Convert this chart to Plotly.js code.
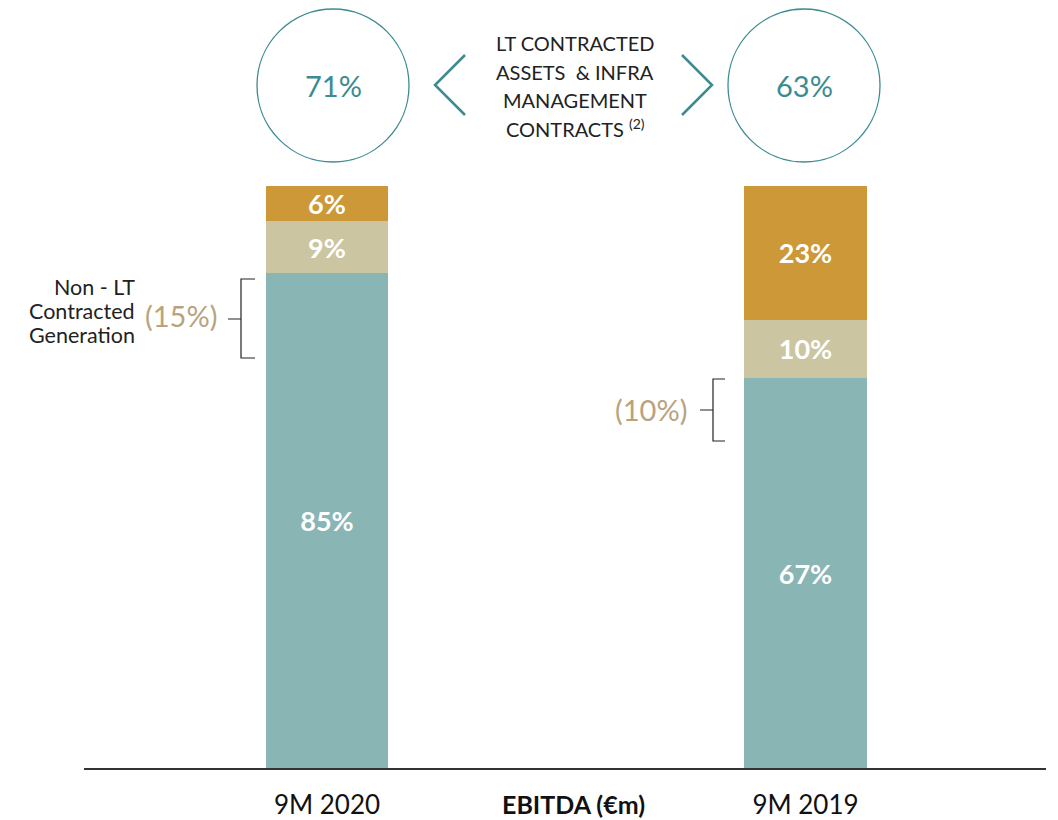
<!DOCTYPE html>
<html>
<head>
<meta charset="utf-8">
<script src="https://cdn.plot.ly/plotly-3.0.1.min.js"></script>
<style>html,body{margin:0;padding:0;background:#fff;}#chart{width:1058px;height:820px;}</style>
</head>
<body>
<div id="chart"></div>
<script>
// ---- data ----
const categories = ['9M 2020', '9M 2019'];
const ltGeneration = [85, 67];      // teal segment
const infraMgmt = [9, 10];          // beige segment
const otherSeg = [6, 23];           // gold segment
const ltContractedShare = [71, 63]; // circles
const nonLtShare = [15, 10];        // bracket labels
const headerLines = ['LT CONTRACTED', 'ASSETS  &amp; INFRA', 'MANAGEMENT', 'CONTRACTS <sup>(2)</sup>'];
const nonLtLines = ['Non - LT', 'Contracted', 'Generation'];
const axisTitle = 'EBITDA (€m)';

// ---- layout helpers ----
const W = 1058, H = 820, L = 84, R = 12, T = 186, B = 52;
const pw = W - L - R, ph = H - T - B;
const px = x => (x - L) / pw;
const py = y => (H - B - y) / ph;

const FONT = 'Lato, "Open Sans", sans-serif';
const TEAL = '#3B8B91';
const colors = ['#8AB5B5', '#CBC5A1', '#CC9838'];

function barTrace(vals, color, name) {
  return {
    type: 'bar', x: categories, y: vals, name: name,
    marker: {color: color, line: {width: 0}},
    width: 0.255,
    text: vals.map(v => '<b>' + v + '%</b>'),
    textposition: 'inside', insidetextanchor: 'middle', textangle: 0,
    constraintext: 'none',
    textfont: {family: FONT, size: 27, color: '#ffffff'},
    hoverinfo: 'skip'
  };
}

const data = [
  barTrace(ltGeneration, colors[0], 'LT contracted generation'),
  barTrace(infraMgmt, colors[1], 'Infra management'),
  barTrace(otherSeg, colors[2], 'Other')
];

const shapes = [];
// circles
const circleCx = [333, 804];
circleCx.forEach(cx => shapes.push({
  type: 'circle', xref: 'paper', yref: 'paper',
  x0: px(cx - 76), x1: px(cx + 76), y0: py(162), y1: py(9),
  line: {color: TEAL, width: 1.3}
}));
// chevrons
function pathOf(pts) {
  return pts.map((p, i) => (p[2] ? 'M' : (i === 0 ? 'M' : 'L')) + ' ' + px(p[0]) + ',' + py(p[1])).join(' ');
}
shapes.push({type: 'path', xref: 'paper', yref: 'paper',
  path: pathOf([[465, 55], [435, 85], [465, 115]]), line: {color: TEAL, width: 2.5}});
shapes.push({type: 'path', xref: 'paper', yref: 'paper',
  path: pathOf([[682, 55], [712, 85], [682, 115]]), line: {color: TEAL, width: 2.5}});
// brackets
shapes.push({type: 'path', xref: 'paper', yref: 'paper',
  path: pathOf([[255, 279], [241, 279], [241, 358], [255, 358], [228, 319, true], [241, 319]]),
  line: {color: '#222', width: 1.2}});
shapes.push({type: 'path', xref: 'paper', yref: 'paper',
  path: pathOf([[725, 379], [713, 379], [713, 441], [725, 441], [700, 410, true], [713, 410]]),
  line: {color: '#222', width: 1.2}});

const annotations = [];
ltContractedShare.forEach((v, i) => annotations.push({
  xref: 'paper', yref: 'paper', x: px(circleCx[i]), y: py(86),
  text: v + '%', showarrow: false, xanchor: 'center', yanchor: 'middle',
  font: {family: FONT, size: 29, color: TEAL}
}));
headerLines.forEach((t, i) => annotations.push({
  xref: 'paper', yref: 'paper', x: px(575), y: py(43 + i * 28.5),
  text: t, showarrow: false, xanchor: 'center', yanchor: 'middle',
  font: {family: FONT, size: 20, color: '#222'}
}));
nonLtLines.forEach((t, i) => annotations.push({
  xref: 'paper', yref: 'paper', x: px(137), y: py(287 + i * 24),
  text: t, showarrow: false, xanchor: 'right', yanchor: 'middle',
  font: {family: FONT, size: 21.5, color: '#222'}
}));
const nonLtPos = [[181, 315], [651, 409]];
nonLtShare.forEach((v, i) => annotations.push({
  xref: 'paper', yref: 'paper', x: px(nonLtPos[i][0]), y: py(nonLtPos[i][1]),
  text: '(' + v + '%)', showarrow: false, xanchor: 'center', yanchor: 'middle',
  font: {family: FONT, size: 29, color: '#B9A37E'}
}));
annotations.push({
  xref: 'paper', yref: 'paper', x: px(573), y: py(804),
  text: '<b>' + axisTitle + '</b>', showarrow: false, xanchor: 'center', yanchor: 'middle',
  font: {family: FONT, size: 25, color: '#111'}
});

const layout = {
  width: W, height: H,
  margin: {l: L, r: R, t: T, b: B, pad: 0},
  paper_bgcolor: '#fff', plot_bgcolor: '#fff',
  barmode: 'stack', showlegend: false,
  xaxis: {type: 'category', range: [-0.5078, 1.5026], showgrid: false, zeroline: false,
    showline: true, linecolor: '#333', linewidth: 1.5, ticks: '',
    ticklabelstandoff: 13,
    tickfont: {family: FONT, size: 26, color: '#111'}, fixedrange: true},
  yaxis: {range: [0, 100], visible: false, fixedrange: true},
  shapes: shapes, annotations: annotations,
  font: {family: FONT}
};

Plotly.newPlot('chart', data, layout, {displayModeBar: false, staticPlot: true});
</script>
</body>
</html>
